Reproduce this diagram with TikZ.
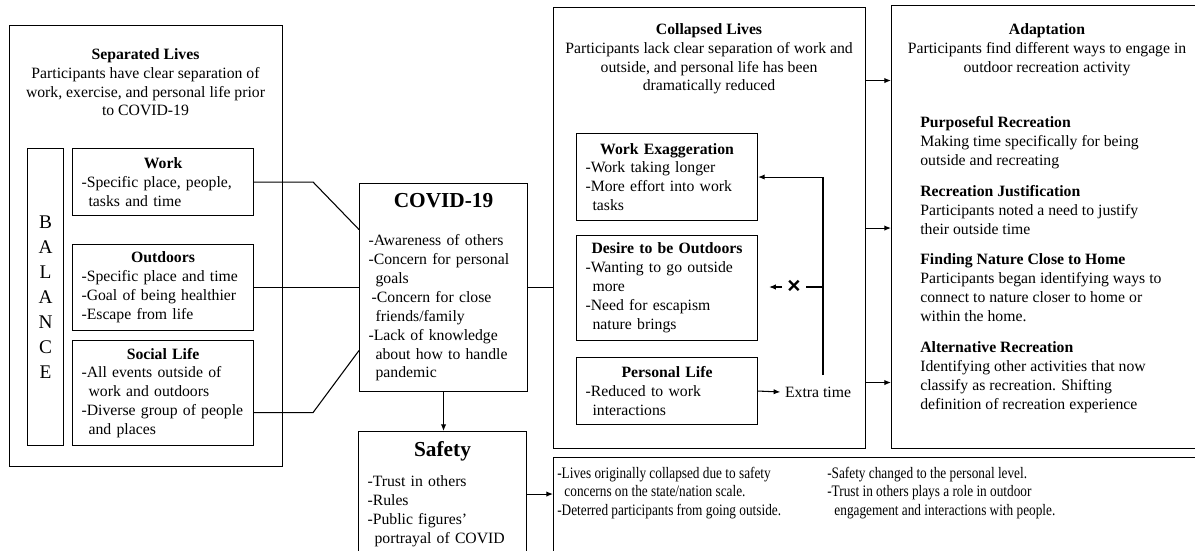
\documentclass[tikz,border=0pt]{standalone}
\usepackage{fontspec}
\setmainfont{Liberation Serif}
\newfontfamily\narrowserif[FakeStretch=0.83]{Liberation Serif}
\newfontfamily\crossfont{Liberation Sans}
\usetikzlibrary{arrows.meta}

\newdimen\pxu \pxu=0.75pt
\newcommand{\boxtitle}[1]{\hspace*{\fill}\textbf{#1}\hspace*{\fill}\null}
\newcommand{\bigtitle}[1]{\hspace*{\fill}{\fontsize{16}{18}\selectfont\bfseries #1}\hspace*{\fill}\null}
\newcommand{\cont}{\hspace*{0.45em}}

\tikzset{
  panel/.style={draw, line width=0.8pt, anchor=north west, inner sep=0pt},
  themebox/.style={draw, line width=0.8pt, anchor=north west, inner xsep=9\pxu, inner ysep=0pt,
    minimum width=181\pxu, text width=163\pxu, align=left},
  heading/.style={anchor=north, align=center, inner sep=0pt},
  link/.style={line width=0.8pt},
  arr/.style={line width=0.8pt, -{Latex[length=5pt,width=4pt]}},
}

\begin{document}
\begin{tikzpicture}[x=0.75pt, y=-0.75pt, every node/.style={font=\fontsize{11.8}{14.2}\selectfont}]
    \useasboundingbox (0,0) rectangle (1195,550);
    \clip (0,0) rectangle (1195,550);

    % separated lives (left panel)
    \node[panel, minimum width=273\pxu, minimum height=441\pxu] (sep) at (9,25) {};
    \node[heading] (sephead) at (145.5,48) {\textbf{Separated Lives}\\Participants have clear separation of\\work, exercise, and personal life prior\\to COVID-19};
    \node[panel, minimum width=36\pxu, minimum height=297\pxu, align=center,
      font=\fontsize{14.5}{18.75}\selectfont] (balance) at (27,148) {B\\A\\L\\A\\N\\C\\E};
    \node[themebox, minimum height=67\pxu] (work) at (72,148) {\boxtitle{Work}\\-Specific place, people,\\\cont tasks and time};
    \node[themebox, minimum height=86\pxu] (outdoors) at (72,244) {\boxtitle{Outdoors}\\-Specific place and time\\-Goal of being healthier\\-Escape from life};
    \node[themebox, minimum height=105\pxu] (social) at (72,340) {\boxtitle{Social Life}\\-All events outside of\\\cont work and outdoors\\-Diverse group of people\\\cont and places};

    % covid and safety
    \node[themebox, minimum width=168\pxu, text width=150\pxu, minimum height=208\pxu] (covid) at (359,183)
      {\bigtitle{COVID-19}\\[14pt]-Awareness of others\\-Concern for personal\\\cont goals\\\hspace*{0.2em}-Concern for close\\\cont friends/family\\-Lack of knowledge\\\cont about how to handle\\\cont pandemic};
    \node[themebox, minimum width=168\pxu, text width=150\pxu, minimum height=125\pxu] (safety) at (358,431)
      {\bigtitle{Safety}\\[8pt]-Trust in others\\-Rules\\-Public figures'\\\cont portrayal of COVID};

    % collapsed lives (middle panel)
    \node[panel, minimum width=312\pxu, minimum height=441\pxu] (collapsed) at (553,7) {};
    \node[heading] (colhead) at (709,23) {\textbf{Collapsed Lives}\\Participants lack clear separation of work and\\outside, and personal life has been\\dramatically reduced};
    \node[themebox, minimum height=87\pxu] (workex) at (576,133) {\boxtitle{Work Exaggeration}\\-Work taking longer\\-More effort into work\\\cont tasks};
    \node[themebox, minimum height=105\pxu] (desire) at (576,235) {\boxtitle{Desire to be Outdoors}\\-Wanting to go outside\\\cont more\\-Need for escapism\\\cont nature brings};
    \node[themebox, minimum height=67\pxu] (personal) at (576,357) {\boxtitle{Personal Life}\\-Reduced to work\\\cont interactions};
    \node (extra) at (818,392) {Extra time};
    \coordinate (loop) at (823,375);
    \node[font=\crossfont\bfseries\fontsize{17}{17}\selectfont, inner sep=5\pxu] (nox) at (794,287) {×};

    % adaptation (right panel)
    \node[panel, minimum width=320\pxu, minimum height=443\pxu] (adapt) at (891,5) {};
    \node[heading] (adahead) at (1047,23) {\textbf{Adaptation}\\Participants find different ways to engage in\\outdoor recreation activity};
    \node[anchor=north west, align=left, inner sep=0pt] (strategies) at (920,116)
      {\textbf{Purposeful Recreation}\\Making time specifically for being\\outside and recreating\\[9pt]
       \textbf{Recreation Justification}\\Participants noted a need to justify\\their outside time\\[9pt]
       \textbf{Finding Nature Close to Home}\\Participants began identifying ways to\\connect to nature closer to home or\\within the home.\\[9pt]
       \textbf{Alternative Recreation}\\Identifying other activities that now\\classify as recreation. Shifting\\definition of recreation experience};

    % lessons (bottom panel)
    \node[panel, minimum width=660\pxu, minimum height=130\pxu] (lessons) at (553,457) {};
    \node[anchor=north west, align=left, inner sep=0pt, font=\narrowserif\fontsize{12}{13.2}\selectfont] (lesleft) at (557,467)
      {-Lives originally collapsed due to safety\\\cont concerns on the state/nation scale.\\[1pt]-Deterred participants from going outside.};
    \node[anchor=north west, align=left, inner sep=0pt, font=\narrowserif\fontsize{12}{13.8}\selectfont] (lesright) at (827,467)
      {-Safety changed to the personal level.\\-Trust in others plays a role in outdoor\\\cont engagement and interactions with people.};

    % connectors
    \draw[link] (work.east) -- ++(59,0) -- ([shift={(0,-58)}]covid.west);
    \draw[link] (outdoors.east) -- (covid.west);
    \draw[link] ([shift={(0,19.5)}]social.east) -- ++(59,0) -- ([shift={(0,63)}]covid.west);
    \draw[link] (covid.east) -- (covid.east -| collapsed.west);
    \draw[arr] (covid.south) -- (covid.south |- safety.north);
    \draw[arr] (safety.east) -- (safety.east -| lessons.west);
    \draw[arr] (personal.east) -- (extra.west);
    \draw[arr] (loop) |- (workex.east);
    \draw[link] (nox.east -| loop) -- (nox.east);
    \draw[arr] (nox.west) -- ++(-13,0);
    \foreach \dy [count=\i] in {-147.5,0,154.5} {
      \path ([shift={(0,\dy)}]collapsed.east) coordinate (out\i);
      \draw[arr] (out\i) -- (out\i -| adapt.west);
    }
\end{tikzpicture}
\end{document}
